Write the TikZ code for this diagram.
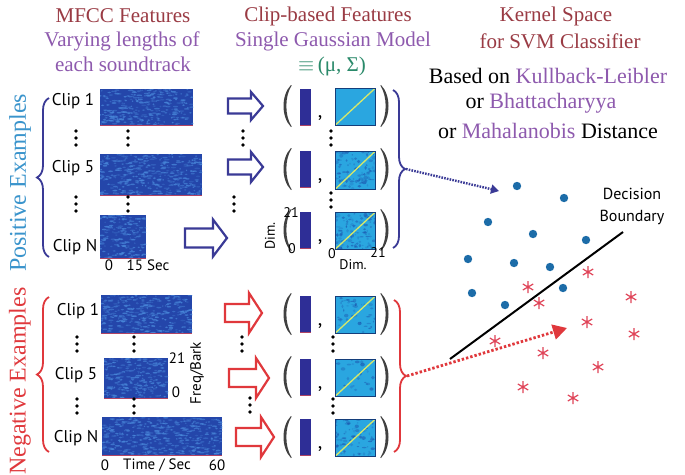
\documentclass[tikz,border=0pt]{standalone}
\usepackage{fontspec}
\setmainfont{Liberation Serif}
\newfontfamily\sfx{PT Sans}
\usetikzlibrary{decorations.pathreplacing,arrows.meta}
\definecolor{ttl}{HTML}{9A3B44}
\definecolor{purp}{HTML}{8E5AAE}
\definecolor{posb}{HTML}{3A94CC}
\definecolor{negr}{HTML}{E0383C}
\definecolor{navy}{HTML}{3A3A96}
\definecolor{specbase}{HTML}{2446AA}
\definecolor{speclt}{HTML}{4A8ADC}
\definecolor{specred}{HTML}{B04464}
\definecolor{covbase}{HTML}{2AA6E0}
\definecolor{covdk}{HTML}{1C58B0}
\definecolor{diagc}{HTML}{D6E86A}
\definecolor{meanc}{HTML}{2E2E96}
\definecolor{dotb}{HTML}{1C6CA8}
\definecolor{astr}{HTML}{E04458}
\definecolor{greenm}{HTML}{2A8A6A}
\newcommand\spg[5]{%
  \node[specbox, minimum width=#4pt, minimum height=#5pt, anchor=north west] (#1) at (#2,#3) {};
  \begin{scope}
    \clip (#1.south west) rectangle (#1.north east);
    \pgfmathtruncatemacro\nsp{#4*#5/11}
    \foreach \k in {1,...,\nsp}{%
      \pgfmathsetmacro\rx{#2+rnd*#4}%
      \pgfmathsetmacro\ry{#3+rnd*#5}%
      \pgfmathsetmacro\rw{0.7+rnd*2.2}%
      \pgfmathsetmacro\op{0.25+rnd*0.5}%
      \fill[speclt, opacity=\op] (\rx,\ry) ellipse ({\rw} and 0.8);
    }
  \end{scope}
  \draw[line width=1.4pt, specred] (#1.south west) -- (#1.south east);
}
\newcommand\covsq[6]{%
  \node[covbox, minimum width=#4pt, minimum height=#5pt, anchor=north west] (#1) at (#2,#3) {};
  \begin{scope}
    \clip (#1.south west) rectangle (#1.north east);
    \ifnum#6>0
    \foreach \k in {1,...,#6}{%
      \pgfmathsetmacro\rx{#2+rnd*#4}%
      \pgfmathsetmacro\ry{#3+rnd*#5}%
      \pgfmathsetmacro\rw{0.6+rnd*1.8}%
      \pgfmathsetmacro\op{0.2+rnd*0.45}%
      \fill[covdk, opacity=\op] (\rx,\ry) ellipse ({\rw} and {0.5+rnd*1.5});
    }
    \fi
    \draw[diagc, line width=1.3pt] (#1.south west) -- (#1.north east);
  \end{scope}
  \draw[covdk!70!black, line width=0.5pt] (#1.south west) rectangle (#1.north east);
}
\newcommand\meanbar[3]{%
  \node[meanbox, anchor=north west] (#1) at (#2,#3) {};
  \draw[line width=1pt, specred] (#1.south west) -- (#1.south east);
}
% name, x, cy, L, H, S, HL, color
\newcommand\barrow[8]{%
  \draw[line width=2.2pt, draw=#8, fill=white]
    (#2,#3-#6/2) -- (#2+#4-#7,#3-#6/2) -- (#2+#4-#7,#3-#5/2) -- (#2+#4,#3)
    -- (#2+#4-#7,#3+#5/2) -- (#2+#4-#7,#3+#6/2) -- (#2,#3+#6/2) -- cycle;
  \coordinate (#1) at (#2+#4/2,#3);
}
\newcommand\vdt[2]{%
  \foreach \j in {0,1,2}{\fill[black] (#1,#2+\j*7) circle (1.8);}
}
\newcommand\astk[2]{%
  \draw[astr, line width=1.2pt] (#1,#2-6) -- (#1,#2+6)
    (#1-5.2,#2-3) -- (#1+5.2,#2+3) (#1-5.2,#2+3) -- (#1+5.2,#2-3);
}
% thin tall parentheses
\newcommand\lpar[2]{%
  \fill[black!75] (#1+4,#2-21) .. controls (#1-6,#2-11) and (#1-6,#2+11) .. (#1+4,#2+21)
    -- (#1+4.6,#2+20.4) .. controls (#1-2.4,#2+10) and (#1-2.4,#2-10) .. (#1+4.6,#2-20.4) -- cycle;
}
\newcommand\rpar[2]{%
  \fill[black!75] (#1-4,#2-21) .. controls (#1+6,#2-11) and (#1+6,#2+11) .. (#1-4,#2+21)
    -- (#1-4.6,#2+20.4) .. controls (#1+2.4,#2+10) and (#1+2.4,#2-10) .. (#1-4.6,#2-20.4) -- cycle;
}
\begin{document}
\begin{tikzpicture}[x=1pt,y=-1pt,
  title/.style={font=\fontsize{21}{21}\selectfont, text=ttl, inner sep=0},
  sub/.style={font=\fontsize{21}{21}\selectfont, text=purp, inner sep=0},
  kern/.style={font=\fontsize{22}{22}\selectfont, inner sep=0},
  cliplab/.style={font=\sfx\fontsize{17}{17}\selectfont, inner sep=0},
  axlab/.style={font=\sfx\fontsize{15}{15}\selectfont, inner sep=0},
  smlab/.style={font=\sfx\fontsize{14}{14}\selectfont, inner sep=0},
  side/.style={font=\fontsize{24}{24}\selectfont, rotate=90, inner sep=0},
  specbox/.style={fill=specbase, inner sep=0, draw=none},
  covbox/.style={fill=covbase, inner sep=0, draw=none},
  meanbox/.style={fill=meanc, inner sep=0, draw=none, minimum width=11pt, minimum height=36pt},
  pbrace/.style={navy, line width=1.8pt, decorate, decoration={brace, amplitude=12pt}},
  nbrace/.style={negr, line width=1.8pt, decorate, decoration={brace, amplitude=12pt}},
]
\pgfmathsetseed{7}
\useasboundingbox (0,0) rectangle (685,474);
\fill[white] (0,0) rectangle (685,474);

% ---- titles
\node[title] (t1) at (123,16) {MFCC Features};
\node[sub] (t1a) at (122,41) {Varying lengths of};
\node[sub] (t1b) at (123,64) {each soundtrack};
\node[title] (t2) at (328,16) {Clip-based Features};
\node[sub] (t2a) at (333,41) {Single Gaussian Model};
\node[font=\fontsize{21}{21}\selectfont, text=greenm, inner sep=0] (t2b) at (332,66) {$\equiv$\,(μ, Σ)};
\node[title] (t3) at (556,16) {Kernel Space};
\node[title] (t3a) at (560,41) {for SVM Classifier};
\node[kern] (k1) at (548,76) {Based on \textcolor{purp}{Kullback-Leibler}};
\node[kern] (k2) at (541,103) {or \textcolor{purp}{Bhattacharyya}};
\node[kern] (k3) at (548,131) {or \textcolor{purp}{Mahalanobis} Distance};

% ---- side labels
\node[side, text=posb] (pex) at (20,183) {Positive Examples};
\node[side, text=negr] (nex) at (20,381) {Negative Examples};
\draw[pbrace] (49,257) -- (49,98);
\draw[nbrace] (49,452) -- (49,297);

% ---- positive clips
\node[cliplab] (pc1) at (73,101) {Clip 1};
\node[cliplab] (pc5) at (73,168) {Clip 5};
\node[cliplab] (pcn) at (75,247) {Clip N};
\spg{ps1}{100}{89}{93}{36}
\spg{ps5}{100}{154}{102}{41}
\spg{psn}{100}{215}{46}{43}
\vdt{76}{131}\vdt{128}{131}
\vdt{76}{197}\vdt{128}{197}
\node[axlab] (px0) at (109,265) {0};
\node[axlab] (px1) at (148,265) {15 Sec};

% ---- negative clips
\node[cliplab] (nc1) at (78,311) {Clip 1};
\node[cliplab] (nc5) at (76,375) {Clip 5};
\node[cliplab] (ncn) at (76,438) {Clip N};
\spg{ns1}{101}{295}{91}{38}
\spg{ns5}{104}{358}{64}{40}
\spg{nsn}{102}{417}{120}{38}
\vdt{77}{337}\vdt{134}{337}
\vdt{77}{399}\vdt{134}{399}
\node[axlab] (ny21) at (177,358) {21};
\node[axlab] (ny0) at (176,392) {0};
\node[axlab, rotate=90] (nyl) at (197,373) {Freq/Bark};
\node[axlab] (nx0) at (105,465) {0};
\node[axlab] (nxl) at (157,465) {Time / Sec};
\node[axlab] (nx1) at (217,465) {60};

% ---- block arrows
\barrow{pa1}{228}{106}{35}{28}{15}{12}{navy}
\barrow{pa2}{228}{167}{35}{30}{15}{12}{navy}
\barrow{pa3}{185}{238}{42}{37}{19}{14}{navy}
\barrow{na1}{225}{313}{37}{40}{18}{13}{negr}
\barrow{na2}{229}{378}{40}{40}{18}{13}{negr}
\barrow{na3}{236}{437}{38}{40}{18}{13}{negr}
\vdt{243}{131}\vdt{234}{197}
\vdt{242}{337}\vdt{250}{398}

% ---- gaussian models
\foreach \nm/\cy in {p1/106, p2/169, p3/230, n1/314, n2/377, n3/437}{
  \lpar{287}{\cy}
  \rpar{385}{\cy}
  \node[font=\sfx\fontsize{20}{20}\selectfont, inner sep=0] (\nm c) at (320,\cy+12) {,};
}
\meanbar{pm1}{300}{89}
\meanbar{pm2}{300}{151}
\meanbar{pm3}{300}{212}
\meanbar{nm1}{300}{296}
\meanbar{nm2}{300}{359}
\meanbar{nm3}{300}{419}
\covsq{pv1}{335}{88}{40}{37}{0}
\covsq{pv2}{335}{151}{40}{38}{90}
\covsq{pv3}{335}{212}{40}{37}{110}
\covsq{nv1}{335}{296}{40}{37}{45}
\covsq{nv2}{335}{359}{40}{37}{25}
\covsq{nv3}{335}{419}{40}{37}{70}
\vdt{331}{131}\vdt{331}{193}
\vdt{333}{337}\vdt{333}{399}
\node[smlab, rotate=90] (dl) at (270,236) {Dim.};
\node[smlab] (d21) at (291,213) {21};
\node[smlab] (d0) at (292,249) {0};
\node[smlab] (b0) at (332,254) {0};
\node[smlab] (bl) at (353,265) {Dim.};
\node[smlab] (b21) at (378,253) {21};

\draw[pbrace] (393,90) -- (393,248);
\draw[nbrace] (394,300) -- (394,452);
\coordinate (pbt) at (406,169);
\coordinate (nbt) at (407,376);

% ---- kernel space
\foreach \i/\x/\y in {1/517/186, 2/564/198, 3/488/222, 4/533/234, 5/586/240, 6/468/259,
  7/514/263, 8/550/267, 9/472/293, 10/563/288, 11/505/305}{
  \fill[dotb] (\x,\y) circle (4.2);
}
\foreach \x/\y in {588/272, 528/287, 539/303, 631/297, 587/322, 634/334, 495/341,
  543/353, 598/367, 523/387, 573/398}{
  \astk{\x}{\y}
}
\coordinate (db1) at (450,359);
\coordinate (db2) at (623,232);
\draw[black, line width=2pt] (db1) -- (db2);
\node[axlab, font=\sfx\fontsize{16}{16}\selectfont] (dec1) at (632,194) {Decision};
\node[axlab, font=\sfx\fontsize{16}{16}\selectfont] (dec2) at (632,217) {Boundary};

\coordinate (pend) at (499,191);
\coordinate (nend) at (567,328);
\draw[navy, line width=2.4pt, dash pattern=on 1.6pt off 1.2pt, -{Triangle[length=8pt,width=9pt]}] (pbt) -- (pend);
\draw[negr, line width=2.8pt, dash pattern=on 2.4pt off 2pt, -{Triangle[length=14pt,width=15pt]}] (nbt) -- (nend);
\end{tikzpicture}
\end{document}
